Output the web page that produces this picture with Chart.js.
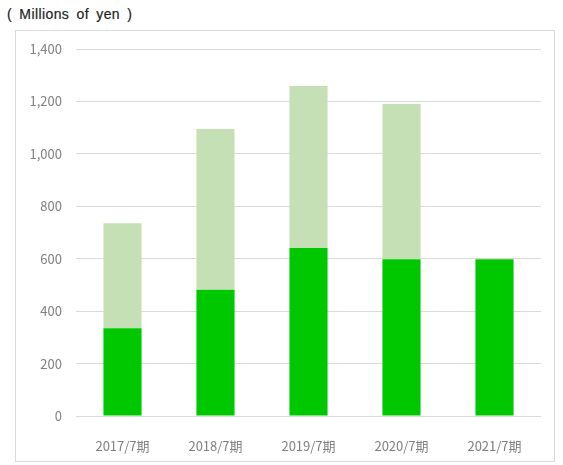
<!DOCTYPE html>
<html>
<head>
<meta charset="utf-8">
<script src="https://cdn.jsdelivr.net/npm/chart.js@4.4.1/dist/chart.umd.min.js"></script>
<style>
  body { margin: 0; background: #fff; }
  #title { position: absolute; left: 7px; top: 6px; font: 14px "Liberation Sans", Arial, sans-serif; color: #222; letter-spacing: 0.4px; word-spacing: 3px; -webkit-text-stroke: 0.2px #222; }
  #frame { position: absolute; left: 15px; top: 30px; width: 540px; height: 432px; border: 1px solid #d9d9d9; box-sizing: border-box; }
  #wrap { position: absolute; left: 0; top: 0; width: 563px; height: 465px; }
</style>
</head>
<body>
<div id="title">( Millions of yen )</div>
<div id="frame"></div>
<div id="wrap"><canvas id="myChart" width="563" height="465"></canvas></div>
<script>
var labels = ['2017/7期', '2018/7期', '2019/7期', '2020/7期', '2021/7期'];
var lowerValues = [335, 482, 641, 598, 598];
var upperValues = [400, 613, 618, 592, 0];
var yTicks = [0, 200, 400, 600, 800, 1000, 1200, 1400];

var tickFont = { family: '"Noto Sans CJK JP", "DejaVu Sans", sans-serif', size: 13 };

var ctx = document.getElementById('myChart').getContext('2d');

const config = {
    type: 'bar',
    data: {
        labels: labels,
        datasets: [{
            data: lowerValues,
            backgroundColor: '#00c800',
            barPercentage: 0.41,
            categoryPercentage: 1.0
        }, {
            data: upperValues,
            backgroundColor: '#c5e0b4',
            barPercentage: 0.41,
            categoryPercentage: 1.0
        }]
    },
    options: {
        responsive: false,
        animation: false,
        layout: {
            padding: { left: 0, right: 22, top: 49, bottom: 0 }
        },
        scales: {
            x: {
                stacked: true,
                grid: { display: false },
                border: { display: false },
                ticks: { color: '#7f7f7f', font: tickFont, padding: 14, maxRotation: 0 },
                afterFit: function (scale) { scale.height = 49; }
            },
            y: {
                stacked: true,
                min: 0,
                max: 1400,
                afterBuildTicks: function (scale) {
                    scale.ticks = yTicks.map(v => ({ value: v }));
                },
                grid: { color: '#d9d9d9', drawTicks: false },
                border: { display: false },
                ticks: {
                    color: '#7f7f7f',
                    font: tickFont,
                    padding: 14,
                    callback: function (value) {
                        return value.toLocaleString('en-US');
                    }
                },
                afterFit: function (scale) { scale.width = 76; }
            }
        },
        plugins: {
            legend: { display: false },
            tooltip: { enabled: false }
        }
    }
};

new Chart(ctx, config);
</script>
</body>
</html>
